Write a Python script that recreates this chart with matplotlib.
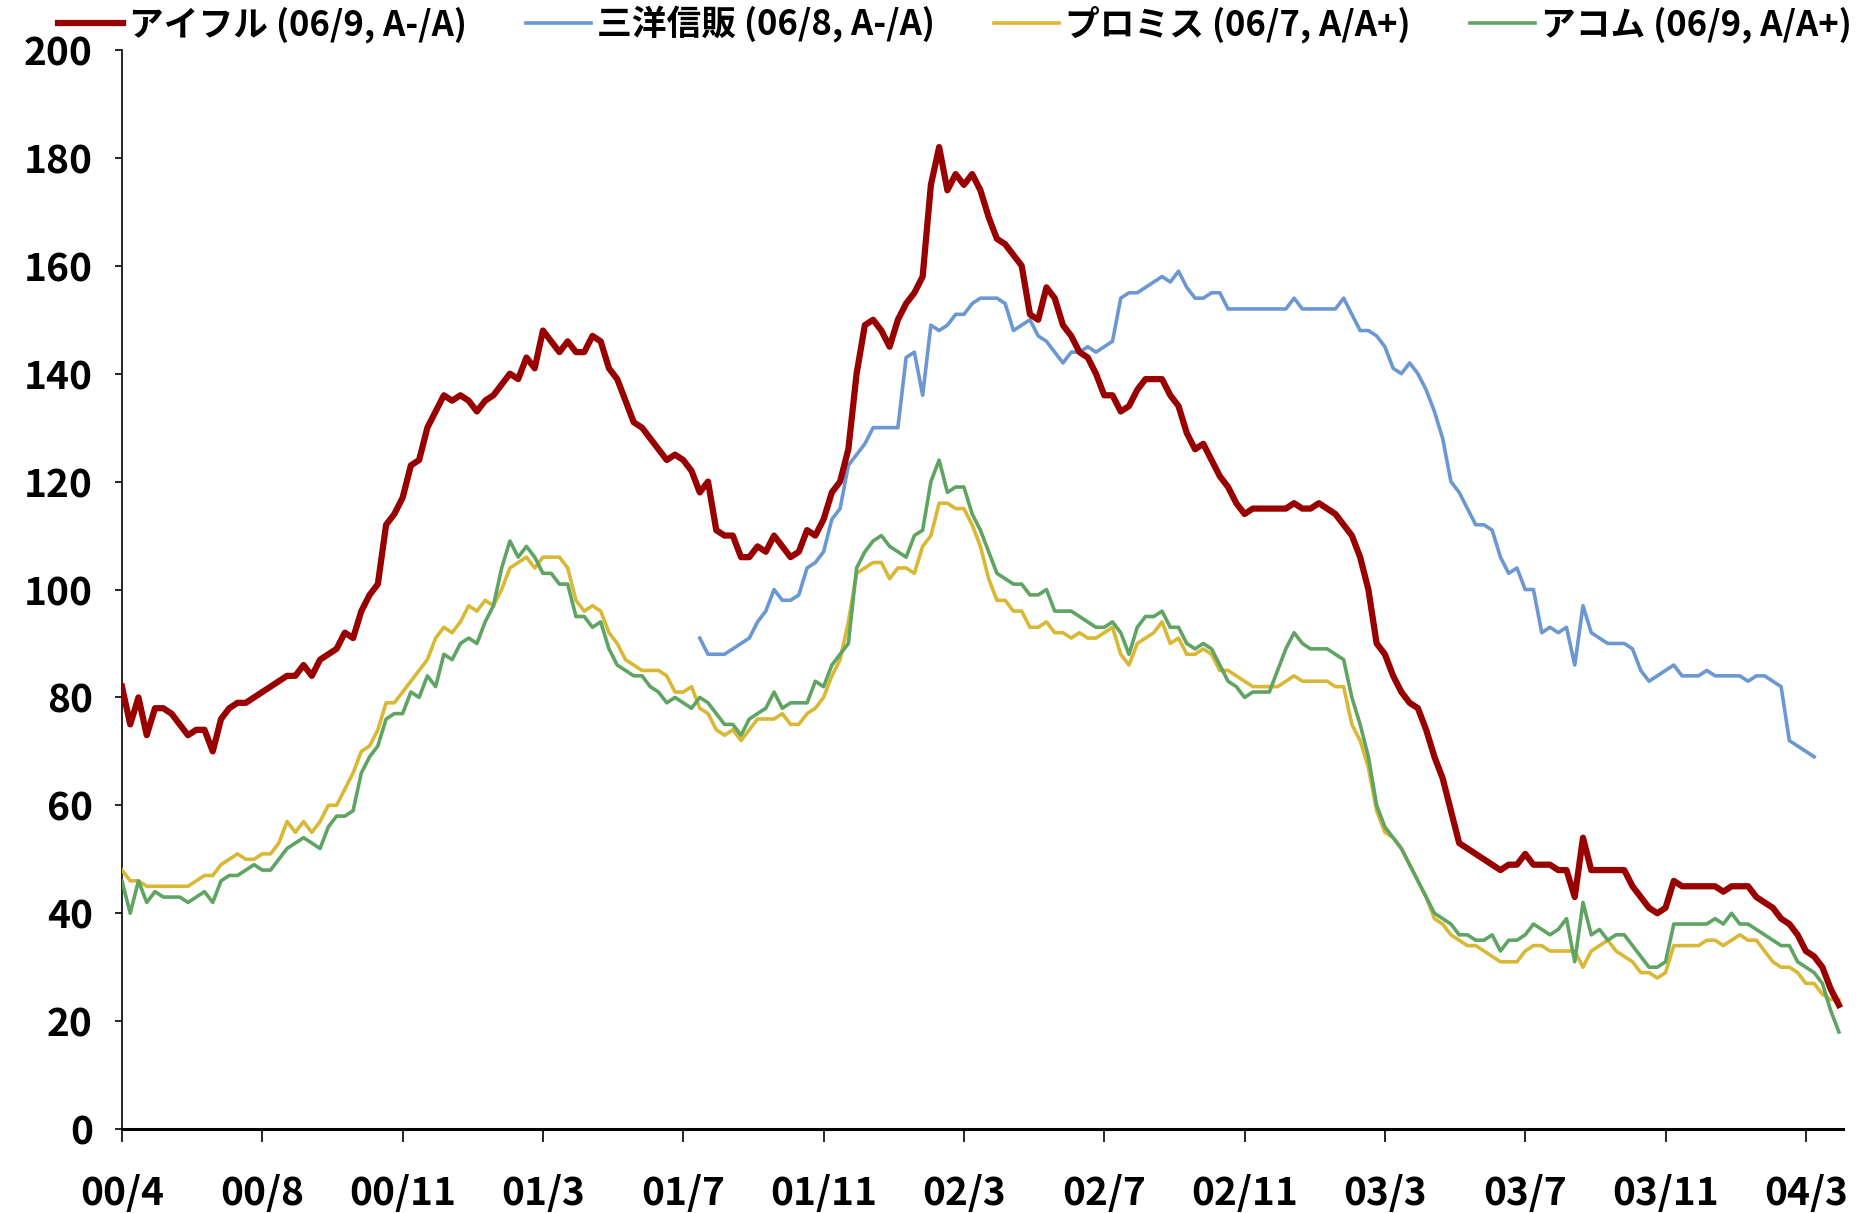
import numpy as np
import matplotlib.pyplot as plt

plt.rcParams['font.family'] = ['Noto Sans CJK JP', 'DejaVu Sans']
plt.rcParams['font.weight'] = 'bold'

# weekly observations, 2000/4 .. 2004/3 (week index)
tick_labels = ['00/4', '00/8', '00/11', '01/3', '01/7', '01/11', '02/3',
               '02/7', '02/11', '03/3', '03/7', '03/11', '04/3']
weeks_per_tick = 17

aiful = [82, 75, 80, 73, 78, 78, 77, 75, 73, 74, 74, 70, 76, 78, 79, 79, 80, 81, 82, 83, 84, 84, 86, 84, 87, 88, 89, 92, 91, 96, 99, 101, 112, 114, 117, 123,
         124, 130, 133, 136, 135, 136, 135, 133, 135, 136, 138, 140, 139, 143, 141, 148, 146, 144, 146, 144, 144, 147, 146, 141, 139, 135, 131, 130, 128, 126, 124, 125, 124, 122, 118,
         120, 111, 110, 110, 106, 106, 108, 107, 110, 108, 106, 107, 111, 110, 113, 118, 120, 126, 140, 149, 150, 148, 145, 150, 153, 155, 158, 175, 182, 174, 177, 175, 177, 174, 169,
         165, 164, 162, 160, 151, 150, 156, 154, 149, 147, 144, 143, 140, 136, 136, 133, 134, 137, 139, 139, 139, 136, 134, 129, 126, 127, 124, 121, 119, 116, 114, 115, 115, 115, 115,
         115, 116, 115, 115, 116, 115, 114, 112, 110, 106, 100, 90, 88, 84, 81, 79, 78, 74, 69, 65, 59, 53, 52, 51, 50, 49, 48, 49, 49, 51, 49, 49, 49, 48, 48,
         43, 54, 48, 48, 48, 48, 48, 45, 43, 41, 40, 41, 46, 45, 45, 45, 45, 45, 44, 45, 45, 45, 43, 42, 41, 39, 38, 36, 33, 32, 30, 26, 23]

promise = [48, 46, 46, 45, 45, 45, 45, 45, 45, 46, 47, 47, 49, 50, 51, 50, 50, 51, 51, 53, 57, 55, 57, 55, 57, 60, 60, 63, 66, 70, 71, 74, 79, 79, 81, 83,
           85, 87, 91, 93, 92, 94, 97, 96, 98, 97, 100, 104, 105, 106, 104, 106, 106, 106, 104, 98, 96, 97, 96, 92, 90, 87, 86, 85, 85, 85, 84, 81, 81, 82, 78,
           77, 74, 73, 74, 72, 74, 76, 76, 76, 77, 75, 75, 77, 78, 80, 84, 87, 94, 103, 104, 105, 105, 102, 104, 104, 103, 108, 110, 116, 116, 115, 115, 112, 108, 102,
           98, 98, 96, 96, 93, 93, 94, 92, 92, 91, 92, 91, 91, 92, 93, 88, 86, 90, 91, 92, 94, 90, 91, 88, 88, 89, 88, 85, 85, 84, 83, 82, 82, 82, 82,
           83, 84, 83, 83, 83, 83, 82, 82, 75, 72, 67, 59, 55, 54, 52, 49, 46, 43, 39, 38, 36, 35, 34, 34, 33, 32, 31, 31, 31, 33, 34, 34, 33, 33, 33,
           33, 30, 33, 34, 35, 33, 32, 31, 29, 29, 28, 29, 34, 34, 34, 34, 35, 35, 34, 35, 36, 35, 35, 33, 31, 30, 30, 29, 27, 27, 25, 24, 24]

acom = [46, 40, 46, 42, 44, 43, 43, 43, 42, 43, 44, 42, 46, 47, 47, 48, 49, 48, 48, 50, 52, 53, 54, 53, 52, 56, 58, 58, 59, 66, 69, 71, 76, 77, 77, 81,
        80, 84, 82, 88, 87, 90, 91, 90, 94, 97, 104, 109, 106, 108, 106, 103, 103, 101, 101, 95, 95, 93, 94, 89, 86, 85, 84, 84, 82, 81, 79, 80, 79, 78, 80,
        79, 77, 75, 75, 73, 76, 77, 78, 81, 78, 79, 79, 79, 83, 82, 86, 88, 90, 104, 107, 109, 110, 108, 107, 106, 110, 111, 120, 124, 118, 119, 119, 114, 111, 107,
        103, 102, 101, 101, 99, 99, 100, 96, 96, 96, 95, 94, 93, 93, 94, 92, 88, 93, 95, 95, 96, 93, 93, 90, 89, 90, 89, 86, 83, 82, 80, 81, 81, 81, 85,
        89, 92, 90, 89, 89, 89, 88, 87, 80, 75, 69, 60, 56, 54, 52, 49, 46, 43, 40, 39, 38, 36, 36, 35, 35, 36, 33, 35, 35, 36, 38, 37, 36, 37, 39,
        31, 42, 36, 37, 35, 36, 36, 34, 32, 30, 30, 31, 38, 38, 38, 38, 38, 39, 38, 40, 38, 38, 37, 36, 35, 34, 34, 31, 30, 29, 27, 22, 18]

# 三洋信販 starts at week 70
sanyo_start = 70
sanyo = [91, 88, 88, 88, 89, 90, 91, 94, 96, 100, 98, 98, 99, 104, 105, 107, 113, 115, 123, 125, 127, 130, 130, 130, 130, 143, 144, 136, 149, 148, 149, 151, 151, 153, 154, 154,
         154, 153, 148, 149, 150, 147, 146, 144, 142, 144, 144, 145, 144, 145, 146, 154, 155, 155, 156, 157, 158, 157, 159, 156, 154, 154, 155, 155, 152, 152, 152, 152, 152, 152, 152,
         152, 154, 152, 152, 152, 152, 152, 154, 151, 148, 148, 147, 145, 141, 140, 142, 140, 137, 133, 128, 120, 118, 115, 112, 112, 111, 106, 103, 104, 100, 100, 92, 93, 92, 93,
         86, 97, 92, 91, 90, 90, 90, 89, 85, 83, 84, 85, 86, 84, 84, 84, 85, 84, 84, 84, 84, 83, 84, 84, 83, 82, 72, 71, 70, 69]

labels = ['アイフル (06/9, A-/A)', '三洋信販 (06/8, A-/A)',
          'プロミス (06/7, A/A+)', 'アコム (06/9, A/A+)']

fig = plt.figure(figsize=(18.62, 12.13), dpi=100)
ax = fig.add_axes([0.0655, 0.0692, 0.9243, 0.8896])

x = np.arange(len(aiful))
xs = np.arange(sanyo_start, sanyo_start + len(sanyo))

l_s, = ax.plot(xs, sanyo, color='#6B97D2', lw=2.6, zorder=2)
l_p, = ax.plot(x, promise, color='#D8B835', lw=2.6, zorder=3)
l_a, = ax.plot(x, acom, color='#5FA463', lw=2.6, zorder=4)
l_i, = ax.plot(x, aiful, color='#990000', lw=4.5, zorder=5)

ax.set_xlim(0, 208.5)
ax.set_ylim(0, 200)
ax.set_yticks(np.arange(0, 201, 20))
ax.set_xticks(np.arange(len(tick_labels)) * weeks_per_tick)
ax.set_xticklabels(tick_labels)

for s in ['top', 'right']:
    ax.spines[s].set_visible(False)
ax.spines['left'].set_linewidth(1.2)
ax.spines['bottom'].set_linewidth(2.2)
ax.tick_params(axis='x', direction='out', length=9, width=1.2, pad=23, labelsize=28)
ax.tick_params(axis='y', direction='out', length=5, width=1.2, pad=16, labelsize=28)

fig.legend([l_i, l_s, l_p, l_a], labels, ncol=4, frameon=False,
           loc='center left', bbox_to_anchor=(0.031, 0.980),
           fontsize=25, handlelength=1.88, handletextpad=0.17,
           columnspacing=1.7, borderpad=0, borderaxespad=0)

fig.savefig('out.png', dpi=100)
